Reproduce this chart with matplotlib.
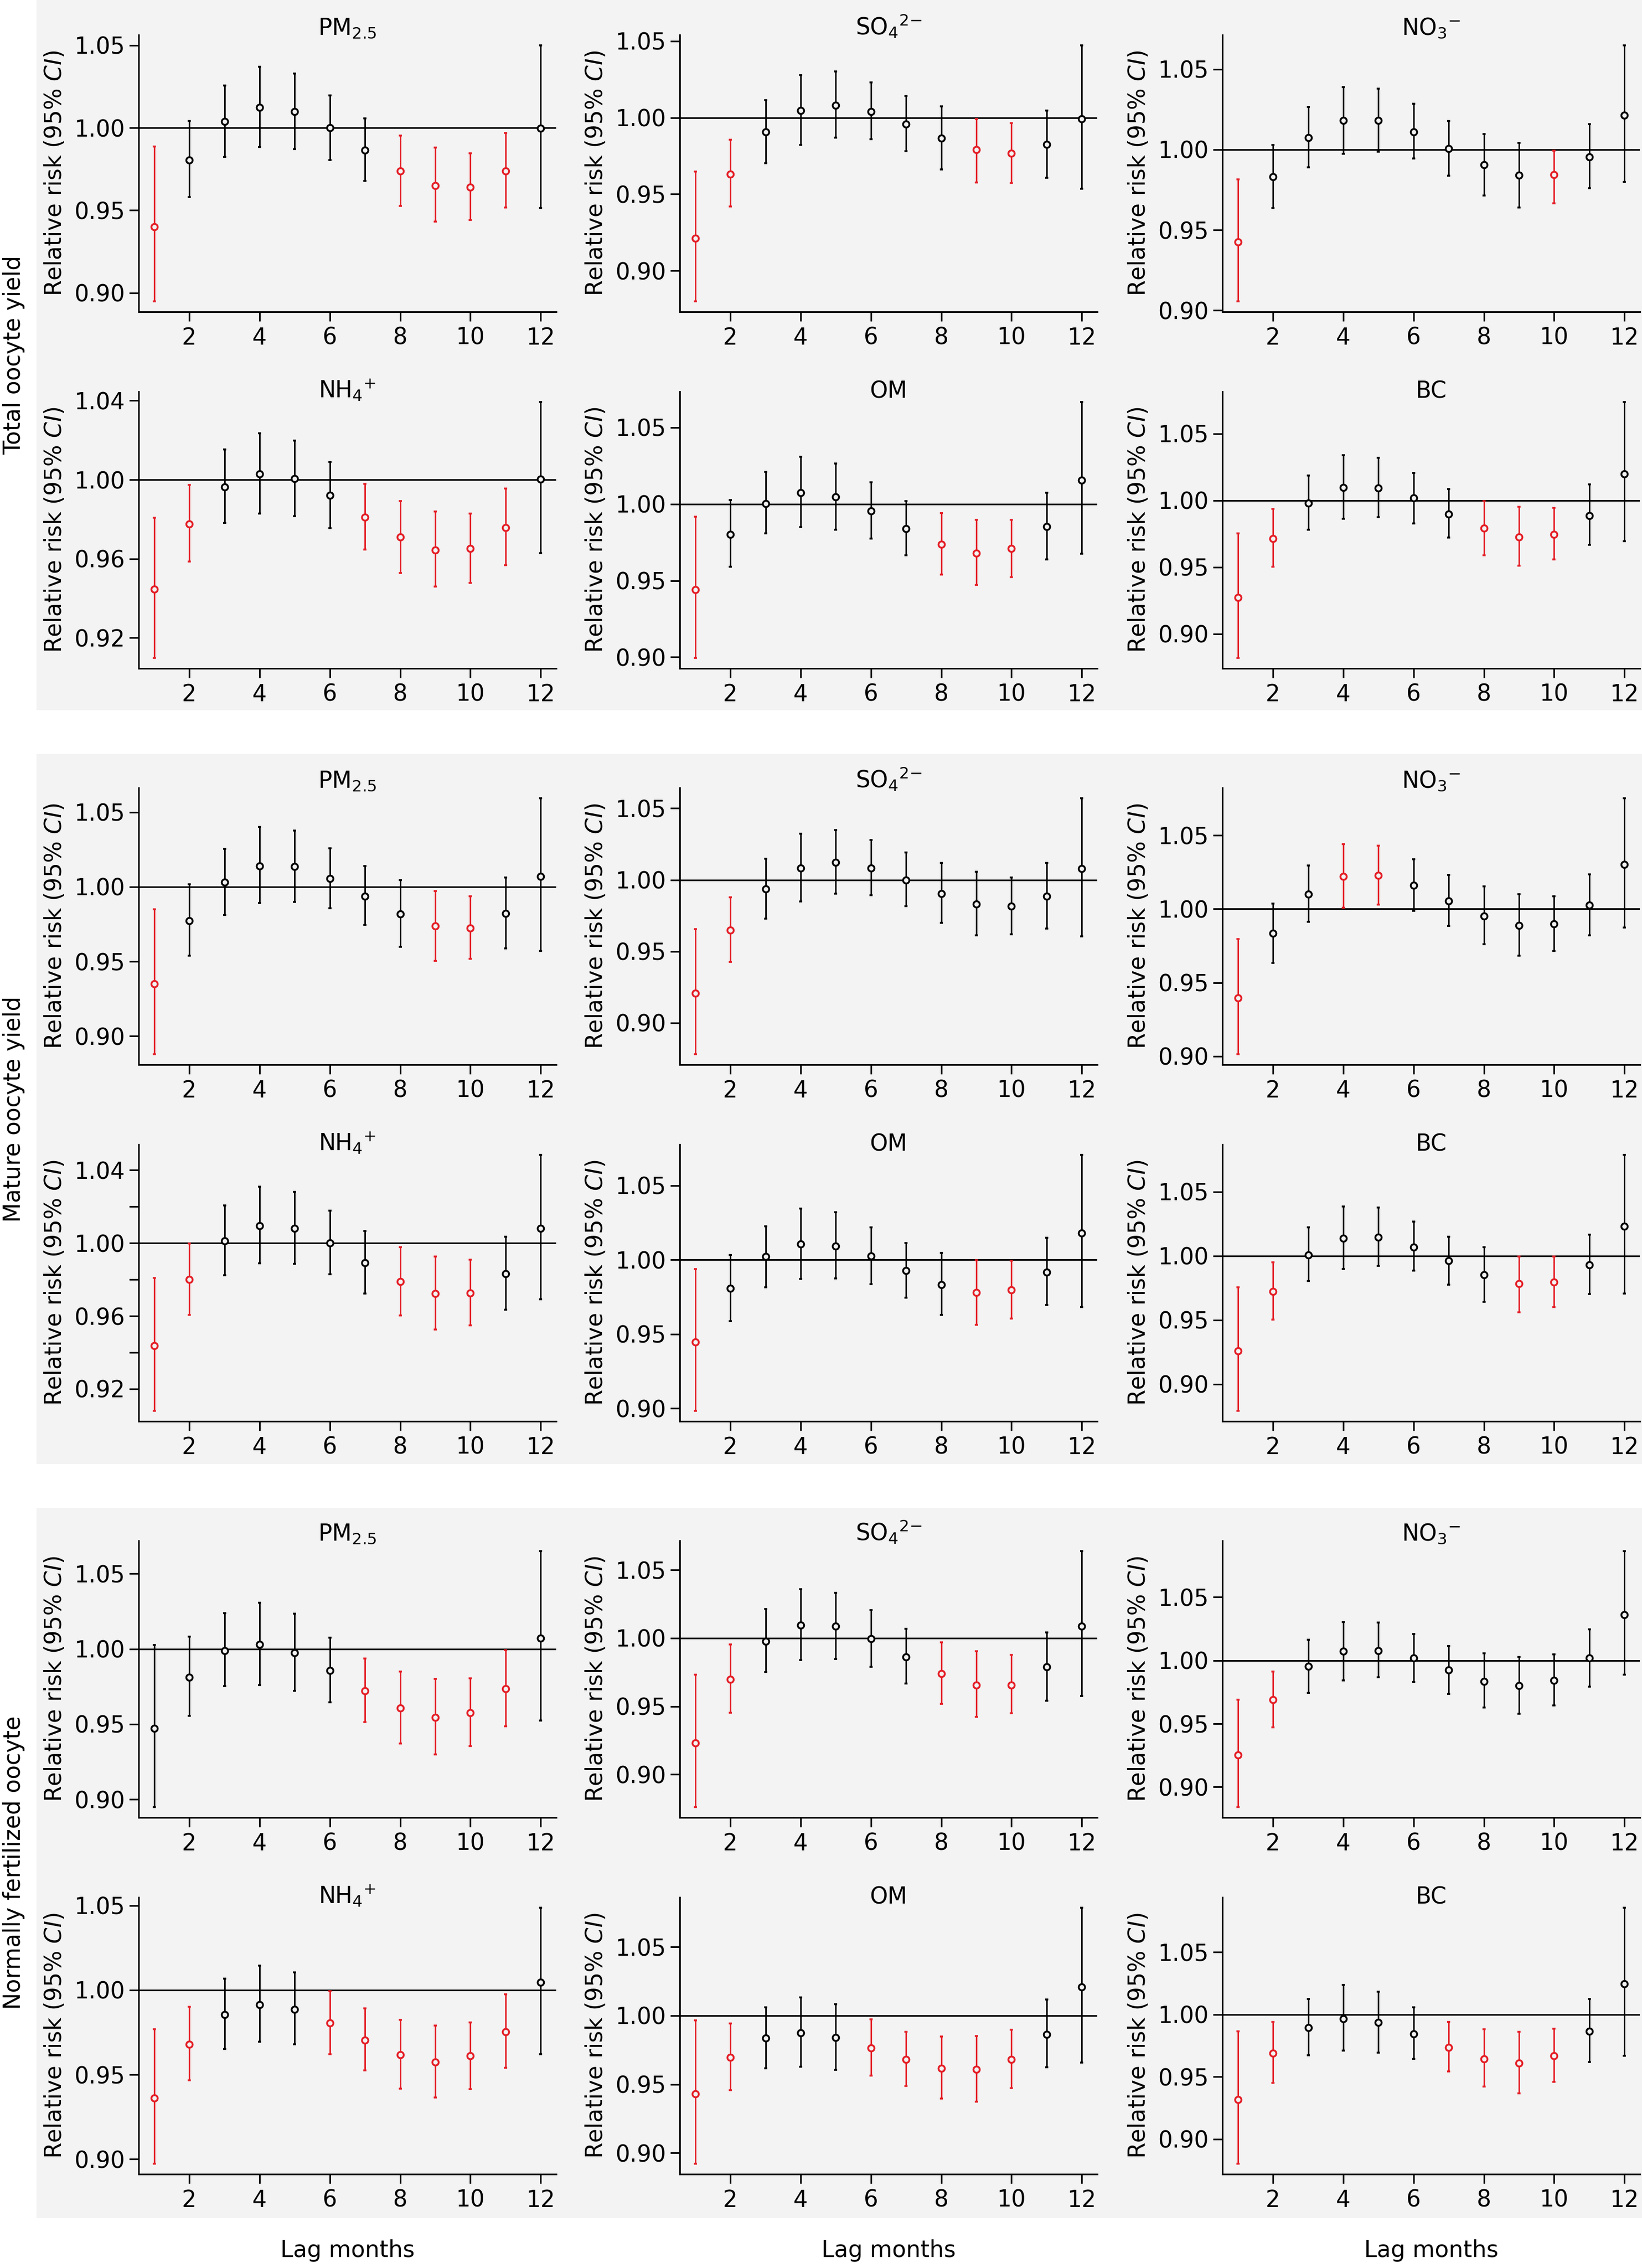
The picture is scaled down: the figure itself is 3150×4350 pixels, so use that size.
import matplotlib
matplotlib.use('Agg')
import matplotlib.pyplot as plt
import numpy as np
from matplotlib.patches import Rectangle
from matplotlib.ticker import MultipleLocator, FuncFormatter

plt.rcParams['font.family'] = ['DejaVu Sans']

# lag months on the x axis
lags = np.arange(1, 13)

# relative risk, lower and upper 95% CI -- total oocyte yield
total_pm25_rr = [0.9400, 0.9806, 1.0038, 1.0123, 1.0097, 0.9999, 0.9866, 0.9738, 0.9651, 0.9639, 0.9739, 0.9996]
total_pm25_lo = [0.8948, 0.9579, 0.9825, 0.9883, 0.9872, 0.9806, 0.9679, 0.9528, 0.9431, 0.9442, 0.9518, 0.9515]
total_pm25_hi = [0.9887, 1.0042, 1.0256, 1.0370, 1.0330, 1.0197, 1.0058, 0.9954, 0.9879, 0.9844, 0.9970, 1.0500]

total_so4_rr = [0.9212, 0.9632, 0.9905, 1.0045, 1.0079, 1.0039, 0.9958, 0.9864, 0.9789, 0.9765, 0.9823, 0.9991]
total_so4_lo = [0.8798, 0.9418, 0.9702, 0.9820, 0.9870, 0.9859, 0.9780, 0.9662, 0.9576, 0.9574, 0.9605, 0.9536]
total_so4_hi = [0.9648, 0.9856, 1.0114, 1.0279, 1.0302, 1.0230, 1.0141, 1.0074, 0.9992, 0.9965, 1.0047, 1.0473]

total_no3_rr = [0.9426, 0.9831, 1.0075, 1.0182, 1.0182, 1.0111, 1.0007, 0.9905, 0.9840, 0.9843, 0.9954, 1.0214]
total_no3_lo = [0.9055, 0.9635, 0.9890, 0.9975, 0.9988, 0.9944, 0.9838, 0.9714, 0.9639, 0.9665, 0.9758, 0.9798]
total_no3_hi = [0.9815, 1.0030, 1.0264, 1.0390, 1.0378, 1.0286, 1.0177, 1.0097, 1.0043, 0.9993, 1.0157, 1.0649]

total_nh4_rr = [0.9445, 0.9777, 0.9963, 1.0030, 1.0005, 0.9920, 0.9810, 0.9709, 0.9645, 0.9652, 0.9758, 1.0002]
total_nh4_lo = [0.9097, 0.9587, 0.9782, 0.9829, 0.9816, 0.9755, 0.9647, 0.9528, 0.9458, 0.9478, 0.9567, 0.9627]
total_nh4_hi = [0.9808, 0.9975, 1.0153, 1.0234, 1.0199, 1.0089, 0.9979, 0.9892, 0.9839, 0.9829, 0.9955, 1.0394]

total_om_rr = [0.9442, 0.9802, 1.0004, 1.0075, 1.0047, 0.9954, 0.9839, 0.9736, 0.9680, 0.9708, 0.9851, 1.0156]
total_om_lo = [0.8993, 0.9591, 0.9808, 0.9850, 0.9833, 0.9774, 0.9665, 0.9540, 0.9472, 0.9522, 0.9637, 0.9674]
total_om_hi = [0.9917, 1.0025, 1.0209, 1.0308, 1.0265, 1.0143, 1.0021, 0.9941, 0.9898, 0.9898, 1.0075, 1.0668]

total_bc_rr = [0.9272, 0.9715, 0.9980, 1.0095, 1.0093, 1.0019, 0.9899, 0.9792, 0.9726, 0.9747, 0.9887, 1.0199]
total_bc_lo = [0.8819, 0.9505, 0.9782, 0.9861, 0.9873, 0.9829, 0.9720, 0.9588, 0.9510, 0.9557, 0.9667, 0.9693]
total_bc_hi = [0.9752, 0.9937, 1.0188, 1.0338, 1.0318, 1.0206, 1.0084, 0.9997, 0.9953, 0.9944, 1.0120, 1.0738]

# mature oocyte yield
mature_pm25_rr = [0.9351, 0.9774, 1.0032, 1.0139, 1.0135, 1.0054, 0.9936, 0.9818, 0.9737, 0.9725, 0.9823, 1.0068]
mature_pm25_lo = [0.8877, 0.9540, 0.9811, 0.9890, 0.9900, 0.9855, 0.9744, 0.9599, 0.9505, 0.9519, 0.9588, 0.9569]
mature_pm25_hi = [0.9850, 1.0018, 1.0256, 1.0400, 1.0378, 1.0259, 1.0138, 1.0044, 0.9973, 0.9938, 1.0061, 1.0595]

mature_so4_rr = [0.9207, 0.9649, 0.9935, 1.0084, 1.0122, 1.0081, 0.9998, 0.9905, 0.9831, 0.9815, 0.9885, 1.0077]
mature_so4_lo = [0.8780, 0.9428, 0.9728, 0.9850, 0.9905, 0.9894, 0.9815, 0.9698, 0.9613, 0.9618, 0.9660, 0.9605]
mature_so4_hi = [0.9657, 0.9877, 1.0148, 1.0324, 1.0347, 1.0278, 1.0191, 1.0118, 1.0058, 1.0017, 1.0118, 1.0572]

mature_no3_rr = [0.9394, 0.9833, 1.0100, 1.0219, 1.0227, 1.0160, 1.0055, 0.9952, 0.9888, 0.9899, 1.0025, 1.0302]
mature_no3_lo = [0.9012, 0.9632, 0.9911, 1.0009, 1.0029, 0.9988, 0.9883, 0.9759, 0.9683, 0.9716, 0.9819, 0.9874]
mature_no3_hi = [0.9794, 1.0038, 1.0296, 1.0439, 1.0431, 1.0336, 1.0232, 1.0152, 1.0100, 1.0087, 1.0235, 1.0753]

mature_nh4_rr = [0.9436, 0.9801, 1.0012, 1.0095, 1.0079, 1.0000, 0.9892, 0.9789, 0.9722, 0.9726, 0.9832, 1.0079]
mature_nh4_lo = [0.9079, 0.9605, 0.9823, 0.9890, 0.9886, 0.9829, 0.9723, 0.9603, 0.9527, 0.9548, 0.9635, 0.9691]
mature_nh4_hi = [0.9808, 0.9996, 1.0205, 1.0308, 1.0279, 1.0177, 1.0065, 0.9978, 0.9925, 0.9909, 1.0035, 1.0484]

mature_om_rr = [0.9446, 0.9806, 1.0020, 1.0105, 1.0093, 1.0024, 0.9926, 0.9833, 0.9778, 0.9797, 0.9917, 1.0178]
mature_om_lo = [0.8982, 0.9587, 0.9815, 0.9871, 0.9876, 0.9836, 0.9745, 0.9627, 0.9563, 0.9605, 0.9697, 0.9680]
mature_om_hi = [0.9938, 1.0032, 1.0226, 1.0343, 1.0319, 1.0217, 1.0112, 1.0046, 0.9996, 0.9992, 1.0149, 1.0707]

mature_bc_rr = [0.9259, 0.9722, 1.0007, 1.0139, 1.0146, 1.0070, 0.9961, 0.9852, 0.9782, 0.9796, 0.9930, 1.0232]
mature_bc_lo = [0.8791, 0.9505, 0.9805, 0.9898, 0.9921, 0.9884, 0.9775, 0.9642, 0.9561, 0.9603, 0.9703, 0.9708]
mature_bc_hi = [0.9754, 0.9951, 1.0221, 1.0386, 1.0378, 1.0269, 1.0151, 1.0069, 0.9997, 0.9996, 1.0167, 1.0789]

# normally fertilized oocyte
fert_pm25_rr = [0.9472, 0.9813, 0.9990, 1.0031, 0.9973, 0.9858, 0.9723, 0.9606, 0.9544, 0.9576, 0.9736, 1.0070]
fert_pm25_lo = [0.8947, 0.9555, 0.9751, 0.9761, 0.9721, 0.9645, 0.9513, 0.9372, 0.9298, 0.9354, 0.9486, 0.9525]
fert_pm25_hi = [1.0028, 1.0081, 1.0237, 1.0309, 1.0234, 1.0076, 0.9937, 0.9849, 0.9800, 0.9804, 0.9993, 1.0652]

fert_so4_rr = [0.9230, 0.9698, 0.9977, 1.0096, 1.0086, 0.9995, 0.9863, 0.9739, 0.9656, 0.9656, 0.9787, 1.0089]
fert_so4_lo = [0.8759, 0.9453, 0.9749, 0.9840, 0.9848, 0.9790, 0.9665, 0.9516, 0.9420, 0.9448, 0.9541, 0.9574]
fert_so4_hi = [0.9731, 0.9952, 1.0213, 1.0360, 1.0332, 1.0207, 1.0069, 0.9970, 0.9903, 0.9878, 1.0041, 1.0639]

fert_no3_rr = [0.9253, 0.9689, 0.9952, 1.0071, 1.0078, 1.0021, 0.9923, 0.9836, 0.9799, 0.9843, 1.0021, 1.0363]
fert_no3_lo = [0.8840, 0.9470, 0.9744, 0.9842, 0.9865, 0.9829, 0.9735, 0.9626, 0.9577, 0.9644, 0.9794, 0.9888]
fert_no3_hi = [0.9689, 0.9911, 1.0165, 1.0304, 1.0301, 1.0210, 1.0116, 1.0055, 1.0028, 1.0050, 1.0247, 1.0865]

fert_nh4_rr = [0.9362, 0.9679, 0.9856, 0.9914, 0.9887, 0.9806, 0.9705, 0.9617, 0.9575, 0.9610, 0.9752, 1.0045]
fert_nh4_lo = [0.8972, 0.9466, 0.9652, 0.9693, 0.9679, 0.9622, 0.9524, 0.9418, 0.9366, 0.9415, 0.9539, 0.9620]
fert_nh4_hi = [0.9769, 0.9900, 1.0067, 1.0144, 1.0104, 0.9994, 0.9891, 0.9823, 0.9791, 0.9808, 0.9974, 1.0488]

fert_om_rr = [0.9429, 0.9697, 0.9836, 0.9873, 0.9840, 0.9764, 0.9682, 0.9618, 0.9607, 0.9682, 0.9864, 1.0208]
fert_om_lo = [0.8920, 0.9457, 0.9618, 0.9626, 0.9605, 0.9564, 0.9488, 0.9397, 0.9375, 0.9471, 0.9622, 0.9658]
fert_om_hi = [0.9966, 0.9944, 1.0060, 1.0134, 1.0082, 0.9972, 0.9883, 0.9849, 0.9853, 0.9896, 1.0117, 1.0787]

fert_bc_rr = [0.9318, 0.9689, 0.9895, 0.9965, 0.9936, 0.9844, 0.9734, 0.9645, 0.9611, 0.9670, 0.9865, 1.0246]
fert_bc_lo = [0.8801, 0.9449, 0.9674, 0.9709, 0.9695, 0.9645, 0.9541, 0.9420, 0.9369, 0.9459, 0.9617, 0.9670]
fert_bc_hi = [0.9863, 0.9939, 1.0125, 1.0236, 1.0184, 1.0055, 0.9939, 0.9881, 0.9859, 0.9887, 1.0123, 1.0857]

outcomes = ['total', 'mature', 'fert']
outcome_labels = ['Total oocyte yield', 'Mature oocyte yield', 'Normally fertilized oocyte']
pollutants = ['pm25', 'so4', 'no3', 'nh4', 'om', 'bc']
titles = [r'PM$_{2.5}$', r'SO$_4{}^{2{-}}$', r'NO$_3{}^{-}$', r'NH$_4{}^{+}$', 'OM', 'BC']

RED = '#e41e26'
BG = '#f3f3f3'
W, H = 3150, 4350
fig = plt.figure(figsize=(W / 300, H / 300), dpi=300)
fig.patch.set_facecolor('white')

# layout in pixels (measured from reference)
ax_left = [266, 1304, 2345]
ax_w, ax_h = 801, 531
FS = 10.5

for g, oc in enumerate(outcomes):
    gtop = g * 1446
    fig.patches.append(Rectangle((70 / W, 1 - (gtop + 1362) / H), 1 - 70 / W, 1362 / H,
                                 transform=fig.transFigure, facecolor=BG, edgecolor='none', zorder=-5))
    fig.text(27 / W, 1 - (gtop + 681) / H, outcome_labels[g], rotation=90,
             ha='center', va='center', fontsize=FS)
    for i, pol in enumerate(pollutants):
        r, c = divmod(i, 3)
        top = 67 + g * 1444 + r * 684
        ax = fig.add_axes([ax_left[c] / W, 1 - (top + ax_h) / H, ax_w / W, ax_h / H])
        ax.set_facecolor('none')

        rr = np.array(globals()[oc + '_' + pol + '_rr'])
        lo = np.array(globals()[oc + '_' + pol + '_lo'])
        hi = np.array(globals()[oc + '_' + pol + '_hi'])
        sig = (hi < 1) | (lo > 1)

        ax.axhline(1.0, color='black', lw=0.75, zorder=1)
        for mask, col in [(~sig, 'black'), (sig, RED)]:
            ax.errorbar(lags[mask], rr[mask], yerr=[rr[mask] - lo[mask], hi[mask] - rr[mask]],
                        fmt='o', ms=2.9, mfc=BG, mec=col, mew=0.85, ecolor=col,
                        elinewidth=0.7, capsize=0.7, capthick=1.0, zorder=3)
        ax.margins(x=0.04, y=0.04)

        ax.set_xticks([2, 4, 6, 8, 10, 12])
        if pol == 'nh4' and oc == 'total':
            ax.yaxis.set_major_locator(MultipleLocator(0.04))
            ax.yaxis.set_major_formatter(FuncFormatter(lambda v, p: '%.2f' % v))
        elif pol == 'nh4' and oc == 'mature':
            ax.yaxis.set_major_locator(MultipleLocator(0.02))
            ax.yaxis.set_major_formatter(FuncFormatter(
                lambda v, p: '%.2f' % v if int(round(v / 0.02)) % 2 == 0 else ''))
        else:
            ax.yaxis.set_major_locator(MultipleLocator(0.05))
            ax.yaxis.set_major_formatter(FuncFormatter(lambda v, p: '%.2f' % v))

        for s in ['top', 'right']:
            ax.spines[s].set_visible(False)
        for s in ['left', 'bottom']:
            ax.spines[s].set_linewidth(0.75)
        ax.tick_params(axis='both', direction='out', length=4.3, width=0.75, labelsize=FS)
        ax.tick_params(axis='y', pad=2)
        ax.tick_params(axis='x', pad=2.6)

        ax.set_ylabel(r'Relative risk (95% $\mathit{CI}$)', fontsize=FS)
        ax.yaxis.set_label_coords(-0.173, 0.5)

        ty = 1.0 if r == 0 else 1 - 12 / ax_h
        ax.set_title(titles[i], fontsize=FS, y=ty, pad=0, va='baseline')

for c in range(3):
    fig.text((ax_left[c] + ax_w / 2) / W, 1 - 4317 / H, 'Lag months',
             ha='center', va='center', fontsize=FS)

fig.savefig('out.png', dpi=300)
